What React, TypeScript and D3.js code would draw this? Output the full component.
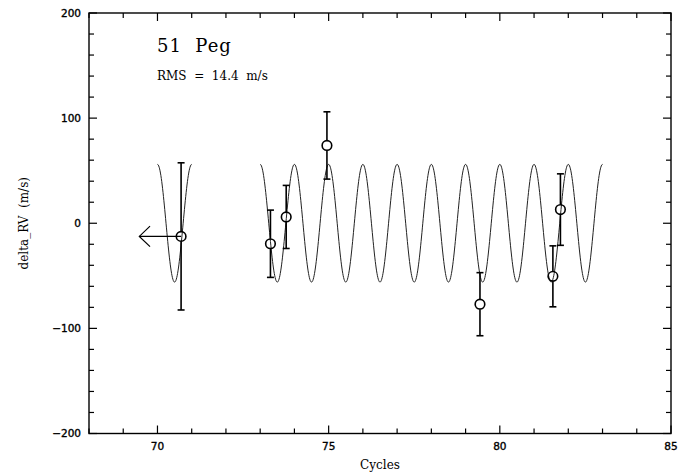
import React from "react";
import * as d3 from "d3";

// Observed data (cycles, delta RV m/s, error m/s)
const cycles = [70.69, 73.3, 73.76, 74.95, 79.42, 81.55, 81.77];
const deltaRV = [-12.5, -19.5, 6, 74, -77, -50.5, 13];
const errors = [70, 32, 30, 32, 30, 29, 34];

// Orbit model (sinusoid, period 1 cycle)
const modelAmplitude = 56;
const modelSegments: [number, number][] = [
  [70, 71],
  [73, 83],
];

// Arrow on first point (pointing to earlier cycles)
const arrowFrom = 70.69;
const arrowTo = 69.47;
const arrowY = -12.5;

const xDomain: [number, number] = [68, 85];
const yDomain: [number, number] = [-200, 200];
const xMajor = [70, 75, 80, 85];
const yMajor = [-200, -100, 0, 100, 200];

const W = 691;
const H = 475;
const L = 89;
const R = 671;
const T = 13;
const B = 433.5;

export default function App() {
  const x = d3.scaleLinear().domain(xDomain).range([L, R]);
  const y = d3.scaleLinear().domain(yDomain).range([B, T]);

  const xMinor = d3.range(xDomain[0], xDomain[1] + 0.001, 1).filter((v) => v % 5 !== 0);
  const yMinor = d3.range(yDomain[0], yDomain[1] + 0.001, 20).filter((v) => v % 100 !== 0);

  const line = d3
    .line<number>()
    .x((d) => x(d))
    .y((d) => y(modelAmplitude * Math.cos(2 * Math.PI * d)));

  const segPaths = modelSegments.map(([a, b]) => {
    const n = Math.round((b - a) * 80);
    const pts = d3.range(n + 1).map((i) => a + ((b - a) * i) / n);
    return line(pts) as string;
  });

  const sansFont = "'DejaVu Sans', sans-serif";
  const serifFont = "'DejaVu Serif', serif";

  const ax = x(arrowTo);
  const ay = y(arrowY);

  return (
    <svg
      width={W}
      height={H}
      style={{ position: "absolute", left: 0, top: 0, background: "#fff" }}
    >
      <rect x={0} y={0} width={W} height={H} fill="#fff" />
      {/* model */}
      {segPaths.map((p, i) => (
        <path key={i} d={p} fill="none" stroke="#222" strokeWidth={1} />
      ))}
      {/* frame */}
      <rect x={L} y={T} width={R - L} height={B - T} fill="none" stroke="#000" strokeWidth={1.4} />
      {/* x ticks */}
      {xMajor.map((v) => (
        <g key={"xM" + v}>
          <line x1={x(v)} x2={x(v)} y1={B} y2={B - 8} stroke="#000" strokeWidth={1.2} />
          <line x1={x(v)} x2={x(v)} y1={T} y2={T + 8} stroke="#000" strokeWidth={1.2} />
          <text
            x={x(v)}
            y={450}
            textAnchor="middle"
            fontFamily={sansFont}
            fontSize={10.5}
            fill="#000"
            stroke="#000"
            strokeWidth={0.35}
          >
            {v}
          </text>
        </g>
      ))}
      {xMinor.map((v) => (
        <g key={"xm" + v}>
          <line x1={x(v)} x2={x(v)} y1={B} y2={B - 5} stroke="#000" strokeWidth={1.2} />
          <line x1={x(v)} x2={x(v)} y1={T} y2={T + 5} stroke="#000" strokeWidth={1.2} />
        </g>
      ))}
      {/* y ticks */}
      {yMajor.map((v) => (
        <g key={"yM" + v}>
          <line x1={L} x2={L + 8} y1={y(v)} y2={y(v)} stroke="#000" strokeWidth={1.2} />
          <line x1={R} x2={R - 8} y1={y(v)} y2={y(v)} stroke="#000" strokeWidth={1.2} />
          <text
            x={81}
            y={y(v) + 3.8}
            textAnchor="end"
            fontFamily={sansFont}
            fontSize={10.5}
            fill="#000"
            stroke="#000"
            strokeWidth={0.35}
          >
            {v < 0 ? "\u2212" + Math.abs(v) : v}
          </text>
        </g>
      ))}
      {yMinor.map((v) => (
        <g key={"ym" + v}>
          <line x1={L} x2={L + 5} y1={y(v)} y2={y(v)} stroke="#000" strokeWidth={1.2} />
          <line x1={R} x2={R - 5} y1={y(v)} y2={y(v)} stroke="#000" strokeWidth={1.2} />
        </g>
      ))}
      {/* arrow */}
      <g stroke="#000" strokeWidth={1.2} fill="none">
        <line x1={x(arrowFrom)} x2={ax} y1={ay} y2={ay} />
        <polyline points={`${ax + 10.7},${ay - 10.3} ${ax},${ay} ${ax + 10.7},${ay + 10.3}`} />
      </g>
      {/* data */}
      {cycles.map((c, i) => {
        const cx = x(c);
        const cy = y(deltaRV[i]);
        const yt = y(deltaRV[i] + errors[i]);
        const yb = y(deltaRV[i] - errors[i]);
        return (
          <g key={"d" + i} stroke="#000" fill="none">
            <line x1={cx} x2={cx} y1={yt} y2={cy - 5} strokeWidth={1.6} />
            <line x1={cx} x2={cx} y1={cy + 5} y2={yb} strokeWidth={1.6} />
            <line x1={cx - 3.5} x2={cx + 3.5} y1={yt} y2={yt} strokeWidth={1.6} />
            <line x1={cx - 3.5} x2={cx + 3.5} y1={yb} y2={yb} strokeWidth={1.6} />
            <circle cx={cx} cy={cy} r={4.8} strokeWidth={1.6} />
          </g>
        );
      })}
      {/* labels */}
      <text
        x={157}
        y={52}
        fontFamily={serifFont}
        fontSize={18}
        letterSpacing={1}
        fill="#000"
        style={{ whiteSpace: "pre" }}
      >
        {"51  Peg"}
      </text>
      <text
        x={157}
        y={80}
        fontFamily={serifFont}
        fontSize={12}
        fill="#000"
        style={{ whiteSpace: "pre" }}
      >
        {"RMS  =  14.4  m/s"}
      </text>
      <text
        x={(L + R) / 2}
        y={469}
        textAnchor="middle"
        fontFamily={serifFont}
        fontSize={12}
        fill="#000"
      >
        Cycles
      </text>
      <text
        transform={`translate(28,${y(0)}) rotate(-90)`}
        textAnchor="middle"
        fontFamily={serifFont}
        fontSize={12}
        fill="#000"
        style={{ whiteSpace: "pre" }}
      >
        {"delta_RV  (m/s)"}
      </text>
    </svg>
  );
}
